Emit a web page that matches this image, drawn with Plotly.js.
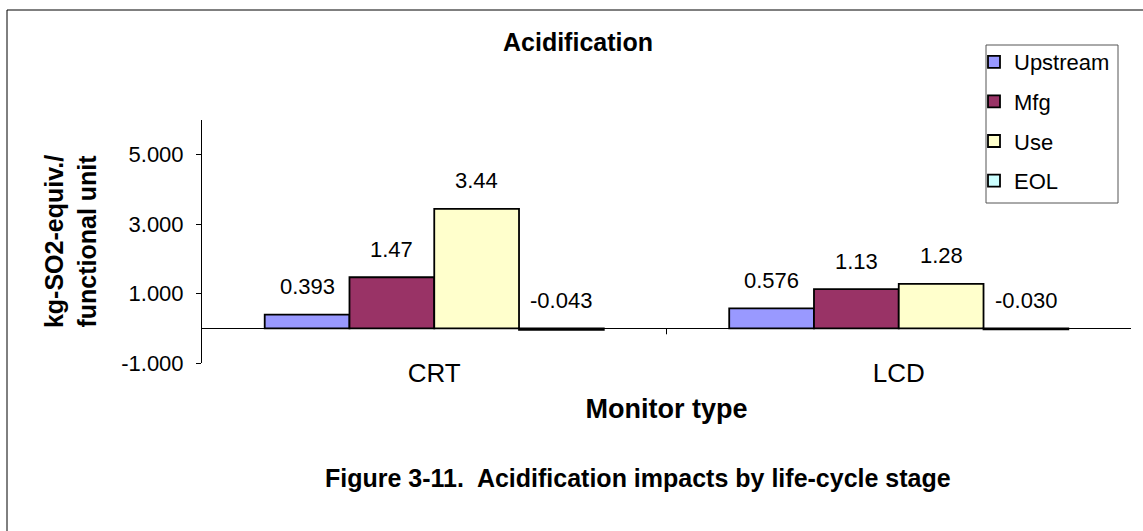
<!DOCTYPE html>
<html>
<head>
<meta charset="utf-8">
<script src="https://cdn.plot.ly/plotly-3.0.1.min.js"></script>
<style>html,body{margin:0;padding:0;background:#fff;}</style>
</head>
<body>
<div id="chart" style="width:1143px;height:531px;"></div>
<script>
// ---- data ----
const categories = ["CRT", "LCD"];
const seriesNames = ["Upstream", "Mfg", "Use", "EOL"];
const upstream = [0.393, 0.576];
const mfg = [1.47, 1.13];
const use = [3.44, 1.28];
const eol = [-0.043, -0.030];
const yTickVals = [-1, 1, 3, 5];

const seriesValues = [upstream, mfg, use, eol];
const colors = ["#9999FF", "#993366", "#FFFFCC", "#CCFFFF"];
const FONT = "Liberation Sans, Arial, sans-serif";
const bargap = 0.27;

const traces = seriesValues.map((vals, i) => ({
  type: "bar",
  name: seriesNames[i],
  x: categories,
  y: vals,
  legendgroup: "g" + i,
  marker: { color: colors[i], line: { color: "#000", width: 1.8 } },
  hoverinfo: "x+y+name"
}));

function fmt(v) {
  return Math.abs(v) >= 1 ? v.toFixed(2) : v.toFixed(3);
}

const barW = (1 - bargap) / seriesValues.length;
const annotations = [];
seriesValues.forEach((vals, i) => {
  vals.forEach((v, j) => {
    annotations.push({
      xref: "x", yref: "y",
      x: j + (i - (seriesValues.length - 1) / 2) * barW,
      y: Math.max(v, 0),
      text: fmt(v),
      showarrow: false,
      yanchor: "middle",
      yshift: 28,
      font: { family: FONT, size: 22, color: "#000" }
    });
  });
});
annotations.push({
  xref: "paper", yref: "paper",
  x: (638 - 202) / 929, y: (363 - 478) / 243,
  xanchor: "center", yanchor: "middle",
  text: "<b>Figure 3-11.  Acidification impacts by life-cycle stage</b>",
  showarrow: false,
  font: { family: FONT, size: 25, color: "#000" }
});

const shapes = [
  // outer frame
  { type: "rect", xref: "paper", yref: "paper",
    x0: (7 - 202) / 929, x1: (1160 - 202) / 929,
    y0: (363 - 545) / 243, y1: (363 - 10) / 243,
    line: { color: "#000", width: 1 }, fillcolor: "rgba(0,0,0,0)", layer: "below" },
  // legend frame
  { type: "rect", xref: "paper", yref: "paper",
    x0: (986 - 202) / 929, x1: (1118 - 202) / 929,
    y0: (363 - 203) / 243, y1: (363 - 45) / 243,
    line: { color: "#555", width: 1 }, fillcolor: "#fff", layer: "below" },
  // category divider tick
  { type: "line", xref: "x", yref: "y", x0: 0.5, x1: 0.5,
    ysizemode: "pixel", yanchor: 0, y0: 0, y1: -6,
    line: { color: "#000", width: 1 } }
];

const layout = {
  width: 1143, height: 531,
  margin: { l: 202, r: 12, t: 120, b: 168 },
  paper_bgcolor: "#fff", plot_bgcolor: "#fff",
  font: { family: FONT, color: "#000" },
  title: {
    text: "<b>Acidification</b>",
    font: { family: FONT, size: 25, color: "#000" },
    x: 578 / 1143, xanchor: "center", xref: "container",
    y: 1 - 42 / 531, yanchor: "middle", yref: "container"
  },
  barmode: "group",
  bargap: bargap,
  bargroupgap: 0,
  showlegend: true,
  legend: {
    x: (974 - 202) / 929, xanchor: "left",
    y: (363 - 41) / 243, yanchor: "top",
    bgcolor: "rgba(0,0,0,0)", borderwidth: 0,
    font: { family: FONT, size: 22, color: "#000" },
    traceorder: "grouped",
    tracegroupgap: 8
  },
  xaxis: {
    type: "category",
    range: [-0.5, 1.5],
    showline: false, showgrid: false, zeroline: false,
    ticks: "",
    ticklabelstandoff: -8,
    tickfont: { family: FONT, size: 26, color: "#000" },
    title: { text: "<b>Monitor type</b>", font: { family: FONT, size: 27, color: "#000" }, standoff: 12 }
  },
  yaxis: {
    range: [-1, 6],
    tickvals: yTickVals,
    ticktext: yTickVals.map(v => v.toFixed(3)),
    showline: true, linecolor: "#000", linewidth: 1,
    ticks: "outside", ticklen: 5, tickcolor: "#000",
    ticklabelstandoff: 8,
    showgrid: false,
    zeroline: true, zerolinecolor: "#000", zerolinewidth: 1,
    tickfont: { family: FONT, size: 22, color: "#000" },
    title: { text: "<b>kg-SO2-equiv./<br>functional unit</b>", font: { family: FONT, size: 25, color: "#000" }, standoff: 17 }
  },
  annotations: annotations,
  shapes: shapes
};

Plotly.newPlot("chart", traces, layout, { displayModeBar: false, staticPlot: true });
</script>
</body>
</html>
